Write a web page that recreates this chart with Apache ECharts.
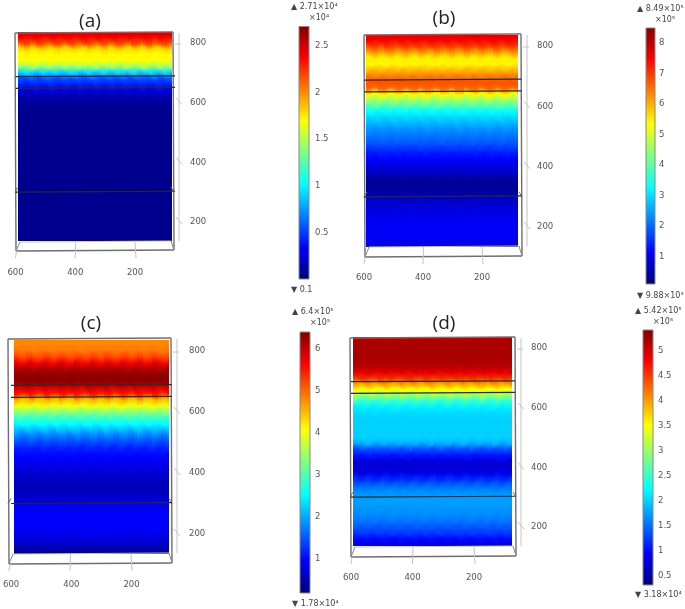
<!DOCTYPE html>
<html>
<head>
<meta charset="utf-8">
<style>
html,body{margin:0;padding:0;background:#fff}
#chart{width:685px;height:609px;filter:blur(0.45px)}
</style>
<script src="https://cdn.jsdelivr.net/npm/echarts@6/dist/echarts.min.js"></script>
</head>
<body>
<div id="chart"></div>
<script>
// ---- values ----
var zLevels = [840,820,800,780,760,740,720,700,680,660,640,620,600,580,560,540,520,500,480,460,440,420,400,380,360,340,320,300,280,260,240,220,200,180,160,140];
var valuesA = [2.5,2.4,2.2,1.8,1.7,1.7,1.45,0.9,0.55,0.42,0.25,0.13,0.08,0.05,0.04,0.04,0.04,0.04,0.04,0.04,0.04,0.04,0.04,0.04,0.04,0.04,0.04,0.04,0.04,0.04,0.04,0.04,0.04,0.04,0.04,0.04];
var valuesB = [7.7,7.5,7.0,6.2,5.5,5.4,5.9,6.4,6.8,6.6,5.4,4.6,3.9,3.2,2.9,2.6,2.3,2.1,1.9,1.6,1.3,1.1,0.9,0.7,0.4,0.25,0.35,0.6,0.75,0.85,0.95,1.05,1.1,1.1,1.05,0.95];
var valuesC = [4.8,4.8,4.9,5.2,5.7,6.1,6.3,6.35,5.9,5.5,4.5,4.0,3.4,2.9,2.5,2.1,1.7,1.4,1.15,1.0,0.9,0.8,0.7,0.6,0.55,0.55,0.65,0.8,0.9,0.95,0.95,0.9,0.85,0.75,0.55,0.4];
var valuesD = [5.1,5.2,5.2,5.2,5.2,5.15,4.95,4.6,4.0,3.5,3.0,2.45,2.15,2.05,2.0,2.0,2.0,2.0,1.85,1.35,1.05,0.8,0.72,0.85,1.15,1.45,1.65,1.75,1.75,1.7,1.65,1.55,1.4,1.25,1.0,0.8];
var ripple = [0,3,1,-3,-2,2,4,1,-3,-4,0,3,3,-1,-3,-1,4,2,-2,-4,-1,3,4,0,-3,-2,1,3,1,-4,-3,2,4,1,-2,-3,0,3,3,-1,-4,-1,3,4,1,-3,-3,1,3,2,-2,-3];
var layerDepths = [687,648,300];
var panelNames = ['(a)','(b)','(c)','(d)'];
var xTickValues = [600,400,200];
var zTickValues = [800,600,400,200];
var barMinA = 0.00001, barMaxA = 2.71, barTicksA = [0.5,1,1.5,2,2.5];
var barMinB = 0.0988,  barMaxB = 8.49, barTicksB = [1,2,3,4,5,6,7,8];
var barMinC = 0.178,   barMaxC = 6.4,  barTicksC = [1,2,3,4,5,6];
var barMinD = 0.318,   barMaxD = 5.42, barTicksD = [0.5,1,1.5,2,2.5,3,3.5,4,4.5,5];
var barTopLabels = ['\u25B2 2.71\u00D710\u2074','\u25B2 8.49\u00D710\u2075','\u25B2 6.4\u00D710\u2075','\u25B2 5.42\u00D710\u2075'];
var barUnits = ['\u00D710\u2074','\u00D710\u2075','\u00D710\u2075','\u00D710\u2075'];
var barBottomLabels = ['\u25BC 0.1','\u25BC 9.88\u00D710\u00B3','\u25BC 1.78\u00D710\u2074','\u25BC 3.18\u00D710\u2074'];

// ---- colour scale ----
var jet = ['#00007f','#0000ff','#007fff','#00ffff','#7fff7f','#ffff00','#ff7f00','#ff0000','#7f0000'];
function colorAt(v,min,max){ return echarts.color.lerp(Math.max(0,Math.min(1,(v-min)/(max-min))), jet); }

// ---- layout ----
var FONT = '"DejaVu Sans", sans-serif';
var Z_MIN = 135, Z_MAX = 836, X_FAR = 592, X_NEAR = 77, COL = 10;
var layout = [
 {x600:15.5,x200:135,y800:43, y200:222,l:15, r:174,t:33, b:251,rb:242,labelX:190,barL:299,barR:309,barT:26.5,barB:279,barLabel:315,tx:90, ty:12, hx:291,hy:7,  ux:309,uy:18, fy:290},
 {x600:364, x200:482,y800:46, y200:227,l:364,r:522,t:35, b:257,rb:247,labelX:537,barL:646,barR:655,barT:28,  barB:284,barLabel:659,tx:444,ty:9,  hx:637,hy:9,  ux:655,uy:20, fy:296},
 {x600:9,   x200:131,y800:351,y200:534,l:8,  r:172,t:339,b:564,rb:554,labelX:189,barL:300,barR:310,barT:332, barB:593,barLabel:315,tx:91, ty:314,hx:292,hy:312,ux:310,uy:323,fy:604},
 {x600:351, x200:474,y800:348,y200:527,l:350,r:516,t:338,b:557,rb:547,labelX:531,barL:643,barR:653,barT:330, barB:585,barLabel:658,tx:444,ty:314,hx:635,hy:311,ux:653,uy:322,fy:595}
];
var profiles = [valuesA,valuesB,valuesC,valuesD];
var bars = [
 {min:barMinA,max:barMaxA,ticks:barTicksA},
 {min:barMinB,max:barMaxB,ticks:barTicksB},
 {min:barMinC,max:barMaxC,ticks:barTicksC},
 {min:barMinD,max:barMaxD,ticks:barTicksD}
];

function rowShift(c,i,n){ return ripple[(c+i*i*3)%n]; }
function buildCells(profile){
  var cells = [], n = ripple.length;
  for (var c=0;c<n;c++){
    var x0 = X_FAR - c*COL, x1 = Math.max(X_NEAR, x0-COL);
    if (x0 <= X_NEAR) break;
    for (var i=0;i<zLevels.length;i++){
      var last = i===zLevels.length-1;
      var zt = zLevels[i] + rowShift(c,i,n);
      var zb = last ? 110 : zLevels[i+1] + rowShift(c,i+1,n);
      cells.push([x0,x1,zt,zb,profile[i],last?profile[i]:profile[i+1],Math.min(zt,Z_MAX),Math.max(zb,Z_MIN)]);
    }
    var z0 = zLevels[0] + rowShift(c,0,n);
    cells.push([x0,x1,870,z0,profile[0],profile[0],Z_MAX,z0]);
  }
  return cells;
}

var grid=[],xAxis=[],yAxis=[],series=[],title=[],graphic=[];
layout.forEach(function(g,p){
  var sx=(g.x200-g.x600)/400, sy=(g.y200-g.y800)/600, bar=bars[p];
  grid.push({left:g.x600,top:g.y800-50*sy,width:540*sx,height:750*sy});
  xAxis.push({gridIndex:p*2,type:'value',inverse:true,min:60,max:600,position:'bottom',
    axisLine:{show:false},axisTick:{show:false},splitLine:{show:false},
    axisLabel:{customValues:xTickValues,margin:16,color:'#555',fontFamily:FONT,fontSize:8.5,showMinLabel:true,showMaxLabel:true}});
  yAxis.push({gridIndex:p*2,type:'value',min:100,max:850,position:'right',
    axisLine:{show:false},axisTick:{show:false},splitLine:{show:false},
    axisLabel:{customValues:zTickValues,margin:g.labelX-(g.x600+540*sx),color:'#555',fontFamily:FONT,fontSize:8.5}});
  grid.push({left:g.barL,top:g.barT,width:g.barR-g.barL,height:g.barB-g.barT});
  xAxis.push({gridIndex:p*2+1,type:'value',min:0,max:1,show:false});
  yAxis.push({gridIndex:p*2+1,type:'value',min:bar.min,max:bar.max,position:'right',
    axisLine:{show:false},splitLine:{show:false},
    axisTick:{customValues:bar.ticks,inside:false,length:2,lineStyle:{color:'#666'}},
    axisLabel:{customValues:bar.ticks,margin:g.barLabel-g.barR,color:'#555',fontFamily:FONT,fontSize:8.5,
      formatter:function(v){return String(v);}}});

  series.push({type:'custom',xAxisIndex:p*2,yAxisIndex:p*2,silent:true,progressive:0,animation:false,
    data:buildCells(profiles[p]),
    encode:{x:[0,1],y:[6,7]},
    renderItem:function(params,api){
      var zt=api.value(2), zb=api.value(3);
      var ct=Math.min(zt,Z_MAX), cb=Math.max(zb,Z_MIN);
      if (ct<=cb) return null;
      var a=api.coord([api.value(0),ct]), b=api.coord([api.value(1),cb]);
      var x=Math.round(a[0]), y=Math.round(a[1]), w=Math.round(b[0])-x, h=Math.round(b[1])-y;
      if (w<=0 || h<=0) return null;
      var top=colorAt(api.value(4),bar.min,bar.max), bot=colorAt(api.value(5),bar.min,bar.max);
      return {type:'rect',shape:{x:x,y:y,width:w,height:h},
        style:{fill:new echarts.graphic.LinearGradient(0,0,0,1,[{offset:0,color:top},{offset:1,color:bot}]),stroke:null}};
    }});
  series.push({type:'custom',xAxisIndex:p*2,yAxisIndex:p*2,silent:true,animation:false,z:5,
    data:layerDepths.map(function(d){return [d];}),
    encode:{y:0},
    renderItem:function(params,api){
      var d=api.value(0);
      var a=api.coord([600,d]), b=api.coord([66,d+3]);
      return {type:'line',shape:{x1:a[0],y1:a[1],x2:b[0],y2:b[1]},style:{stroke:'#2a2a2a',lineWidth:1.2}};
    }});
  series.push({type:'custom',xAxisIndex:p*2+1,yAxisIndex:p*2+1,silent:true,animation:false,
    data:[[0,1,bar.min,bar.max]],
    encode:{x:[0,1],y:[2,3]},
    renderItem:function(params,api){
      var a=api.coord([api.value(0),api.value(3)]), b=api.coord([api.value(1),api.value(2)]);
      var stops=jet.map(function(c,i){return {offset:1-i/(jet.length-1),color:c};}).reverse();
      return {type:'rect',shape:{x:a[0],y:a[1],width:b[0]-a[0],height:b[1]-a[1]},
        style:{fill:new echarts.graphic.LinearGradient(0,0,0,1,stops),stroke:'#888',lineWidth:1}};
    }});

  title.push({text:panelNames[p],left:g.tx,top:g.ty,textAlign:'center',padding:0,
    textStyle:{fontFamily:'"Open Sans",sans-serif',fontSize:19,fontWeight:'normal',color:'#222'}});

  function seg(x1,y1,x2,y2,c,w){graphic.push({type:'line',silent:true,z:4,shape:{x1:x1,y1:y1,x2:x2,y2:y2},style:{stroke:c,lineWidth:w}});}
  var box='#6e6e6e', pale='#c4c4c4';
  seg(g.l,g.t,g.r-1,g.t-1,box,1.4);
  seg(g.l,g.t,g.l+1,g.b,box,1.4);
  seg(g.r-1,g.t-1,g.r,g.b-1,box,1.4);
  seg(g.l+1,g.b,g.r,g.b-1,box,1.4);
  seg(g.l+5,g.rb,g.r-3,g.rb-1,pale,1);
  seg(g.l+1,g.b,g.l+5,g.rb,'#888',1);
  seg(g.r,g.b-1,g.r-3,g.rb-1,'#888',1);
  seg(g.r+5,g.t,g.r+5,g.rb-1,pale,1);
  seg(g.r+1,g.y800+1,g.r+7,g.y800+1,pale,1);
  [0.333,0.667,1].forEach(function(f){
    var y=g.y800+f*(g.y200-g.y800);
    seg(g.r+2,y-5,g.r+8,y+2,pale,1);
  });
  xTickValues.forEach(function(v,i){
    var x=g.x600+(600-v)*sx;
    seg(x+1+(i*-0.5),i===0?g.b:g.rb,x+(i===2?1:0),g.b+7,pale,1);
  });
  var ny=g.y800+(800-layerDepths[2])*sy;
  seg(g.l,ny,g.l+3,ny-5,box,1);
  seg(g.r,ny,g.r-3,ny-5,box,1);

  function label(txt,x,y){graphic.push({type:'text',silent:true,x:x,y:y,style:{text:txt,fill:'#444',font:'8px '+FONT,verticalAlign:'middle'}});}
  label(barTopLabels[p],g.hx,g.hy);
  label(barUnits[p],g.ux,g.uy);
  label(barBottomLabels[p],g.hx,g.fy);
});

var chart=echarts.init(document.getElementById('chart'),null,{renderer:'canvas'});
chart.setOption({animation:false,backgroundColor:'#fff',title:title,grid:grid,xAxis:xAxis,yAxis:yAxis,series:series,graphic:graphic});
</script>
</body>
</html>
